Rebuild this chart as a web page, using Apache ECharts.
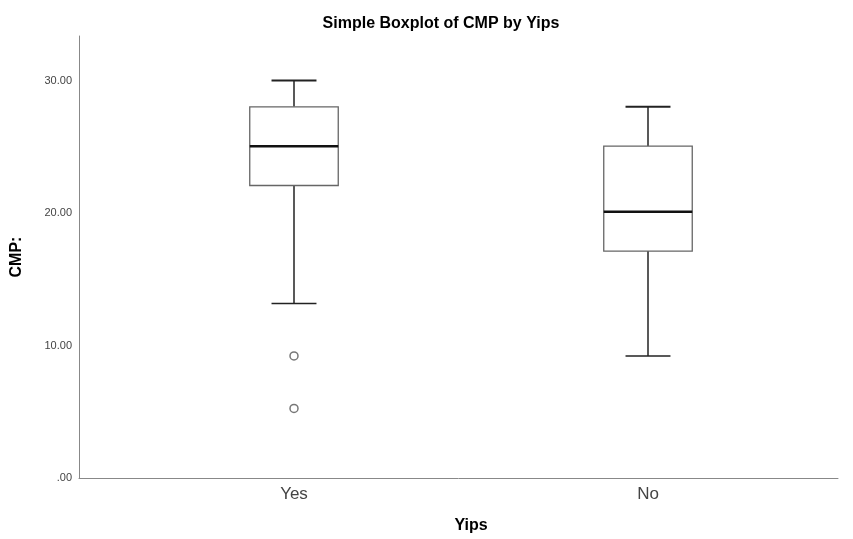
<!DOCTYPE html>
<html>
<head>
<meta charset="utf-8">
<script src="https://cdn.jsdelivr.net/npm/echarts@6/dist/echarts.min.js"></script>
<style>html,body{margin:0;padding:0;background:#fff}#c{width:853px;height:539px}</style>
</head>
<body>
<div id="c"></div>
<script>
const categories = ['Yes', 'No'];
const whiskerLow = [13, 9];
const q1 = [22, 17];
const median = [25, 20];
const q3 = [28, 25];
const whiskerHigh = [30, 28];
const outliers = [[0, 9], [0, 5]];
const yTicks = [0, 10, 20, 30];

const boxData = categories.map((c, i) => [i, whiskerLow[i], q1[i], median[i], q3[i], whiskerHigh[i]]);

const chart = echarts.init(document.getElementById('c'));
const font = 'Liberation Sans, Arial, sans-serif';
chart.setOption({
  animation: false,
  backgroundColor: '#fff',
  title: {
    text: 'Simple Boxplot of CMP by Yips',
    left: 436, top: 11, textAlign: 'center',
    textStyle: {fontFamily: font, fontSize: 16, fontWeight: 'bold', color: '#000'}
  },
  grid: [
    {left: 117, right: 28, top: 36, bottom: 61},
    {left: 79, right: 15, top: 36, bottom: 61}
  ],
  xAxis: [
    {type: 'category', gridIndex: 0, data: categories,
     axisLine: {show: false}, axisTick: {show: false},
     axisLabel: {fontFamily: font, fontSize: 17, color: '#444', margin: 12},
     name: 'Yips', nameLocation: 'middle', nameGap: 44,
     nameTextStyle: {fontFamily: font, fontSize: 16, fontWeight: 'bold', color: '#000'}},
    {type: 'value', gridIndex: 1, min: 0, max: 1,
     axisLine: {show: true, lineStyle: {color: '#888', width: 1}},
     axisTick: {show: false}, axisLabel: {show: false}, splitLine: {show: false}}
  ],
  yAxis: [
    {type: 'value', gridIndex: 0, min: 0, max: 33.4, show: false, splitLine: {show: false}},
    {type: 'value', gridIndex: 1, min: 0, max: 33.4, interval: 10,
     axisLine: {show: true, lineStyle: {color: '#888', width: 1}},
     axisTick: {show: false}, splitLine: {show: false},
     axisLabel: {showMaxLabel: false, fontFamily: font, fontSize: 11, color: '#444', margin: 7,
       padding: [5, 0, 0, 0],
       formatter: v => yTicks.includes(v) ? (v === 0 ? '.00' : v.toFixed(2)) : ''},
     name: 'CMP:', nameLocation: 'middle', nameGap: 54, nameRotate: 90,
     nameTextStyle: {fontFamily: font, fontSize: 16, fontWeight: 'bold', color: '#000'}}
  ],
  series: [
    {
      type: 'custom', xAxisIndex: 0, yAxisIndex: 0,
      data: boxData,
      encode: {x: 0, y: [1, 2, 3, 4, 5]},
      renderItem: function (params, api) {
        const x = api.value(0);
        const pLo = api.coord([x, api.value(1)]);
        const pQ1 = api.coord([x, api.value(2)]);
        const pMed = api.coord([x, api.value(3)]);
        const pQ3 = api.coord([x, api.value(4)]);
        const pHi = api.coord([x, api.value(5)]);
        const band = api.size([1, 0])[0];
        const bw = band * 0.25, cw = band * 0.127;
        const cx = pLo[0];
        const wStyle = {stroke: '#222', lineWidth: 1.5};
        const bStyle = {stroke: '#666', lineWidth: 1.3, fill: '#fff'};
        return {type: 'group', children: [
          {type: 'line', shape: {x1: cx, y1: pHi[1], x2: cx, y2: pQ3[1]}, style: wStyle},
          {type: 'line', shape: {x1: cx, y1: pQ1[1], x2: cx, y2: pLo[1]}, style: wStyle},
          {type: 'line', shape: {x1: cx - cw / 2, y1: pHi[1], x2: cx + cw / 2, y2: pHi[1]}, style: {stroke: '#222', lineWidth: 2}},
          {type: 'line', shape: {x1: cx - cw / 2, y1: pLo[1], x2: cx + cw / 2, y2: pLo[1]}, style: {stroke: '#222', lineWidth: 1.5}},
          {type: 'rect', shape: {x: cx - bw / 2, y: pQ3[1], width: bw, height: pQ1[1] - pQ3[1]}, style: bStyle},
          {type: 'line', shape: {x1: cx - bw / 2, y1: pMed[1], x2: cx + bw / 2, y2: pMed[1]}, style: {stroke: '#111', lineWidth: 2.5}}
        ]};
      }
    },
    {
      type: 'scatter', xAxisIndex: 0, yAxisIndex: 0,
      data: outliers,
      symbol: 'circle', symbolSize: 8,
      itemStyle: {color: '#fff', borderColor: '#555', borderWidth: 1.5}
    }
  ]
});
</script>
</body>
</html>
